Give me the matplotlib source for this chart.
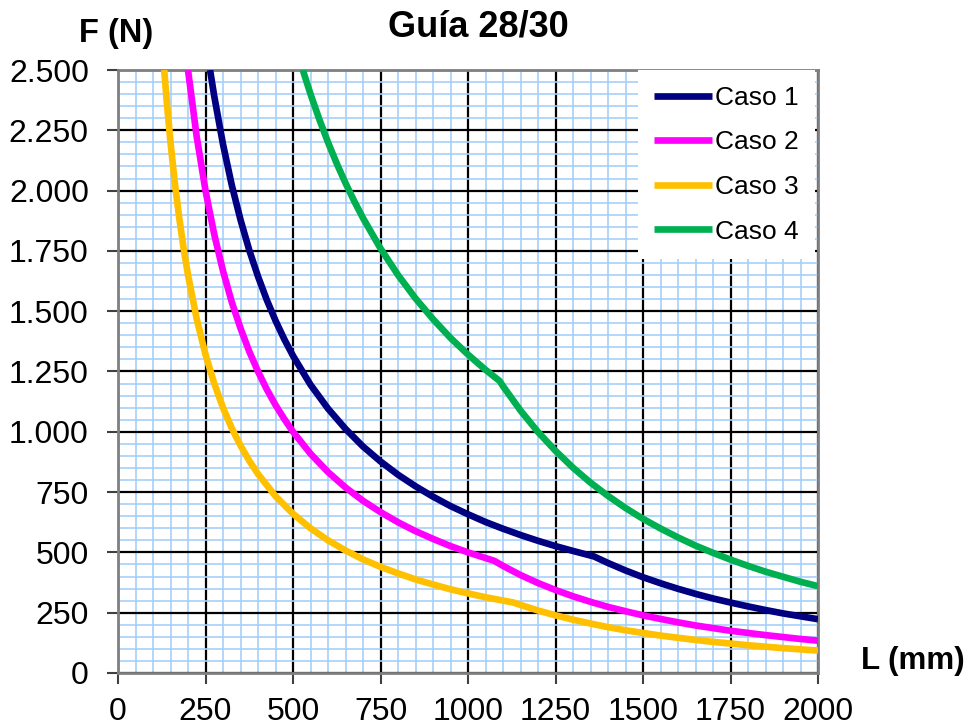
import matplotlib
matplotlib.use("Agg")
import matplotlib.pyplot as plt
from matplotlib.ticker import MultipleLocator, FuncFormatter

plt.rcParams['font.family'] = ['Liberation Sans', 'DejaVu Sans']

# Caso 1
L1 = [263, 275, 300, 325, 350, 375, 400, 425, 450, 475, 500, 550, 600, 650, 700, 750,
      800, 850, 900, 950, 1000, 1050, 1100, 1150, 1200, 1250, 1300, 1360, 1400, 1450,
      1500, 1550, 1600, 1650, 1700, 1750, 1800, 1850, 1900, 1950, 2000]
F1 = [2500, 2391, 2192, 2023, 1879, 1753, 1644, 1547, 1461, 1384, 1315, 1195, 1096, 1012,
      939, 877, 822, 774, 731, 692, 658, 626, 598, 572, 548, 526, 506, 483, 456, 425,
      397, 372, 349, 328, 309, 292, 276, 261, 247, 235, 223]

# Caso 2
L2 = [200, 225, 250, 275, 300, 325, 350, 375, 400, 425, 450, 475, 500, 550, 600, 650,
      700, 750, 800, 850, 900, 950, 1000, 1075, 1100, 1150, 1200, 1250, 1300, 1350,
      1400, 1450, 1500, 1550, 1600, 1650, 1700, 1750, 1800, 1850, 1900, 1950, 2000]
F2 = [2500, 2222, 2000, 1818, 1667, 1538, 1429, 1333, 1250, 1176, 1111, 1053, 1000, 909,
      833, 769, 714, 667, 625, 588, 556, 526, 500, 465, 444, 406, 373, 344, 318, 295,
      274, 256, 239, 224, 210, 197, 186, 175, 166, 157, 149, 141, 134]

# Caso 3
L3 = [132, 140, 150, 162, 175, 187, 200, 225, 250, 275, 300, 325, 350, 375, 400, 450,
      500, 550, 600, 650, 700, 750, 800, 850, 900, 950, 1000, 1050, 1130, 1150, 1200,
      1250, 1300, 1350, 1400, 1450, 1500, 1550, 1600, 1650, 1700, 1750, 1800, 1850,
      1900, 1950, 2000]
F3 = [2500, 2357, 2200, 2037, 1886, 1765, 1650, 1467, 1320, 1200, 1100, 1015, 943, 880,
      825, 733, 660, 600, 550, 508, 471, 440, 413, 388, 367, 347, 330, 314, 292, 282,
      259, 239, 221, 205, 190, 177, 166, 155, 146, 137, 129, 122, 115, 109, 103, 98, 93]

# Caso 4
L4 = [528, 550, 575, 600, 625, 650, 675, 700, 750, 800, 850, 900, 950, 1000, 1050, 1090,
      1100, 1150, 1200, 1250, 1300, 1350, 1400, 1450, 1500, 1550, 1600, 1650, 1700,
      1750, 1800, 1850, 1900, 1950, 2000]
F4 = [2500, 2400, 2296, 2200, 2112, 2031, 1956, 1886, 1760, 1650, 1553, 1467, 1389, 1320,
      1257, 1211, 1189, 1088, 999, 921, 851, 789, 734, 684, 639, 599, 562, 528, 498,
      470, 444, 420, 399, 378, 360]

series = [("Caso 1", L1, F1, "#000080"),
          ("Caso 2", L2, F2, "#FF00FF"),
          ("Caso 3", L3, F3, "#FFC000"),
          ("Caso 4", L4, F4, "#00B050")]

fig = plt.figure(figsize=(9.68, 7.27), dpi=100)
ax = fig.add_axes([0.1219, 0.0743, 0.7232, 0.8294])

for name, x, y, c in series:
    ax.plot(x, y, color=c, lw=4.8, label=name, solid_capstyle='butt',
            solid_joinstyle='round', zorder=3)

ax.set_xlim(0, 2000)
ax.set_ylim(0, 2500)
ax.xaxis.set_major_locator(MultipleLocator(250))
ax.yaxis.set_major_locator(MultipleLocator(250))
ax.xaxis.set_minor_locator(MultipleLocator(50))
ax.yaxis.set_minor_locator(MultipleLocator(50))
ax.yaxis.set_major_formatter(FuncFormatter(lambda v, p: f"{v:,.0f}".replace(",", ".")))

ax.grid(which='minor', color='#A6CFFA', lw=1.2, zorder=0)
ax.grid(which='major', color='black', lw=1.6, zorder=1)
ax.set_axisbelow(True)

for s in ax.spines.values():
    s.set_color('#808080')
    s.set_linewidth(2)

ax.tick_params(which='major', direction='out', length=8, width=1.5, color='#404040',
               labelsize=23, pad=9)
ax.tick_params(axis='y', pad=13)
ax.tick_params(which='minor', length=0)

ax.text(-0.003, 1.06, "F (N)", transform=ax.transAxes, fontsize=23.5,
        fontweight='bold', ha='center', va='center')
ax.text(1.135, 0.02, "L (mm)", transform=ax.transAxes, fontsize=22.5,
        fontweight='bold', ha='center', va='center')
fig.text(0.494, 0.963, "Guía 28/30", fontsize=26, fontweight='bold',
         ha='center', va='center')

leg = ax.legend(loc='upper right', bbox_to_anchor=(0.995, 1.0), borderaxespad=0,
                fontsize=19, handlelength=2.2, handletextpad=0.1, labelspacing=0.78,
                fancybox=False, framealpha=1, borderpad=0.6)
leg.get_frame().set_edgecolor('none')
leg.set_zorder(5)

fig.savefig("out.png", dpi=100)
